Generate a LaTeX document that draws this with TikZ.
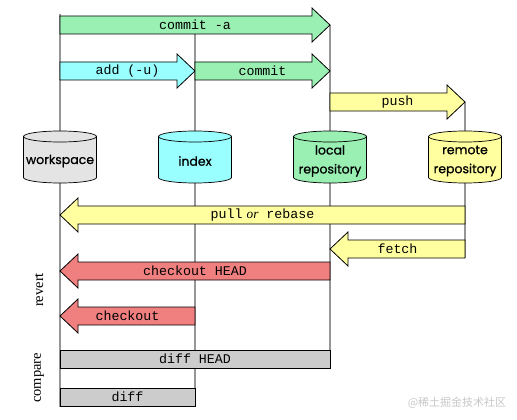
\documentclass[tikz,border=0pt]{standalone}
\usepackage{fontspec}
\setmainfont{Liberation Serif}
\setmonofont{Liberation Mono}
\newfontfamily\cylfont[FakeBold=0.8]{Poppins}
\newfontfamily\cjkfont{Noto Sans CJK SC}
\definecolor{cgreen}{RGB}{153,240,178}
\definecolor{ccyan}{RGB}{153,255,255}
\definecolor{cyellow}{RGB}{255,255,160}
\definecolor{cred}{RGB}{240,128,128}
\definecolor{cgray}{RGB}{204,204,204}
\definecolor{cws}{RGB}{228,228,228}
\definecolor{cline}{RGB}{150,150,150}
\newcommand{\rarr}[5]{% name, xa, xb, yc, color
  \path[arrbox,fill=#5] (#2,#4-9) -- (#3-18,#4-9) -- (#3-18,#4-17) -- (#3,#4) -- (#3-18,#4+17) -- (#3-18,#4+9) -- (#2,#4+9) -- cycle;}
\newcommand{\larr}[5]{% name, xa(right), xb(tip), yc, color
  \path[arrbox,fill=#5] (#2,#4-9) -- (#3+18,#4-9) -- (#3+18,#4-17) -- (#3,#4) -- (#3+18,#4+17) -- (#3+18,#4+9) -- (#2,#4+9) -- cycle;}
\newcommand{\cyl}[3]{% cx, color
  \path[fill=#2] (#1-36.5,136.5) -- (#1-36.5,177.5) arc[start angle=180,end angle=360,x radius=36.5pt,y radius=5.5pt] -- (#1+36.5,136.5) arc[start angle=0,end angle=180,x radius=36.5pt,y radius=5.5pt] -- cycle;
  \draw[cylline] (#1-36.5,136.5) -- (#1-36.5,177.5) arc[start angle=180,end angle=360,x radius=36.5pt,y radius=5.5pt] -- (#1+36.5,136.5) arc[start angle=0,end angle=180,x radius=36.5pt,y radius=5.5pt];
  \draw[cylline] (#1-36.5,136.5) arc[start angle=180,end angle=360,x radius=36.5pt,y radius=5.5pt];}
\begin{document}
\begin{tikzpicture}[x=1pt,y=-1pt,
  arrbox/.style={draw=black,line width=0.8pt,line join=miter},
  cylline/.style={draw=black,line width=0.7pt},
  vline/.style={draw=cline,line width=2.6pt},
  mono/.style={font=\ttfamily\fontsize{13.3}{15}\selectfont,inner sep=0pt},
  cyltext/.style={font=\cylfont\fontsize{12.5}{19}\selectfont,align=center,inner sep=0pt},
  side/.style={font=\rmfamily\fontsize{14.5}{16}\selectfont,rotate=90,inner sep=0pt}]
\useasboundingbox (0,0) rectangle (517,420);
% vertical lines
\draw[vline] (60,14) -- (60,407);
\draw[vline] (195,34) -- (195,407);
\draw[vline] (330,25) -- (330,368);
\draw[vline] (465,102) -- (465,258);
% cylinders
\cyl{60}{cws}{}
\cyl{195}{ccyan}{}
\cyl{330}{cgreen}{}
\cyl{465}{cyellow}{}
\node[cyltext] (workspace) at (60,161) {workspace};
\node[cyltext] (index) at (195,161) {index};
\node[cyltext] (local) at (330,161) {local\\repository};
\node[cyltext] (remote) at (465,161) {remote\\repository};
% arrows
\rarr{a1}{60}{330}{25}{cgreen}
\node[mono] (commita) at (195,25) {commit -a};
\rarr{a2}{60}{195}{71}{ccyan}
\node[mono] (add) at (127.5,71) {add (-u)};
\rarr{a3}{195}{330}{71}{cgreen}
\node[mono] (commit) at (262.5,71) {commit};
\rarr{a4}{330}{465}{102}{cyellow}
\node[mono] (push) at (397.5,102) {push};
\larr{a5}{465}{60}{215}{cyellow}
\node[mono] (pull) at (262.5,215) {pull\hspace{4pt}{\rmfamily\itshape or} rebase};
\larr{a6}{465}{330}{249}{cyellow}
\node[mono] (fetch) at (397.5,249) {fetch};
\larr{a7}{330}{60}{271}{cred}
\node[mono] (checkouthead) at (195,271) {checkout HEAD};
\larr{a8}{195}{60}{316}{cred}
\node[mono] (checkout) at (127.5,316) {checkout};
\path[arrbox,fill=cgray] (60,350) rectangle (330,368);
\node[mono] (diffhead) at (195,359) {diff HEAD};
\path[arrbox,fill=cgray] (60,388) rectangle (195,406);
\node[mono] (diff) at (127.5,397) {diff};
% side labels
\node[side] (revert) at (39,290) {revert};
\node[side] (compare) at (39,378) {compare};
% watermark
\node[font=\cjkfont\fontsize{11}{13}\selectfont,text=black!22,inner sep=0pt] (wm) at (457,403) {@稀土掘金技术社区};
\end{tikzpicture}
\end{document}
